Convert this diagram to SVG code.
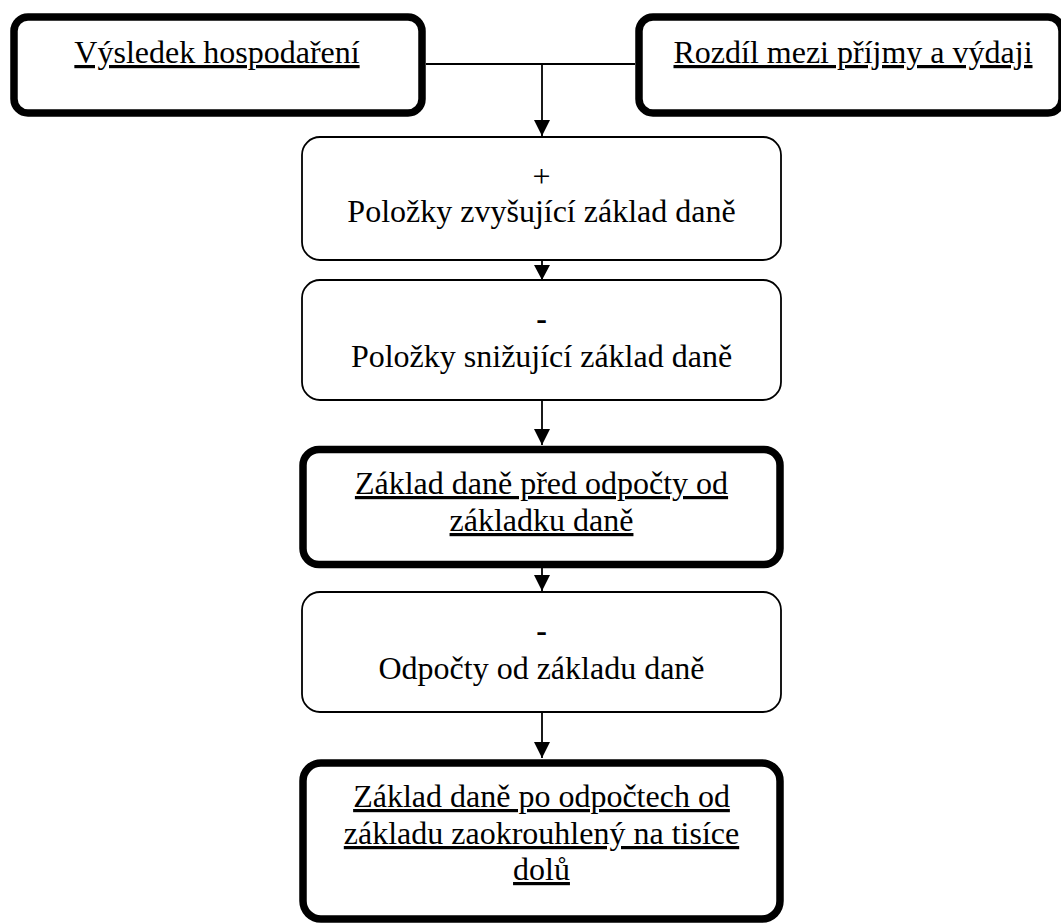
<svg xmlns="http://www.w3.org/2000/svg" width="1061" height="924" viewBox="0 0 1061 924">
  <defs>
    <marker id="arrow" markerUnits="userSpaceOnUse" markerWidth="16" markerHeight="16" viewBox="0 0 16 16" refX="8" refY="16" orient="auto-start-reverse">
      <path d="M0,0 L16,0 L8,16 Z" fill="#000"/>
    </marker>
    <style>
      .thin { fill: #fff; stroke: #000; stroke-width: 1.8; }
      .thick { fill: #fff; stroke: #000; stroke-width: 7.5; }
      .t { font-family: "Liberation Serif", "Times New Roman", serif; font-size: 32px; fill: #000; text-anchor: middle; }
      .u { text-decoration: underline; }
      .b { font-weight: bold; }
      .conn { fill: none; stroke: #000; stroke-width: 1.8; }
    </style>
  </defs>
  <rect width="1061" height="924" fill="#fff"/>

  <g id="connectors">
    <path class="conn" d="M426,64 L635,64"/>
    <path class="conn" d="M542,64 L542,136"/>
    <path d="M534,120 L550,120 L542,136 Z" fill="#000"/>
    <path class="conn" d="M542,260 L542,280"/>
    <path d="M534,265 L550,265 L542,280 Z" fill="#000"/>
    <path class="conn" d="M542,400 L542,445"/>
    <path d="M534,429 L550,429 L542,445 Z" fill="#000"/>
    <path class="conn" d="M542,568 L542,591"/>
    <path d="M534,575 L550,575 L542,591 Z" fill="#000"/>
    <path class="conn" d="M542,712 L542,758"/>
    <path d="M534,742 L550,742 L542,758 Z" fill="#000"/>
  </g>

  <g id="node-vysledek">
    <rect class="thick" x="14" y="17" width="408" height="96" rx="14"/>
    <text class="t u" x="217" y="63">Výsledek hospodaření</text>
  </g>

  <g id="node-rozdil">
    <rect class="thick" x="639" y="17" width="423" height="96" rx="14"/>
    <text class="t u" x="853" y="63">Rozdíl mezi příjmy a výdaji</text>
  </g>

  <g id="node-zvysujici">
    <rect class="thin" x="302" y="137" width="479" height="123" rx="18"/>
    <text class="t" x="541.5" y="187">+</text>
    <text class="t" x="541.5" y="222">Položky zvyšující základ daně</text>
  </g>

  <g id="node-snizujici">
    <rect class="thin" x="302" y="280" width="479" height="120" rx="18"/>
    <text class="t b" x="541.5" y="329">-</text>
    <text class="t" x="541.5" y="367">Položky snižující základ daně</text>
  </g>

  <g id="node-zaklad-pred">
    <rect class="thick" x="303" y="449.5" width="477" height="115" rx="16"/>
    <text class="t u" x="541.5" y="494">Základ daně před odpočty od</text>
    <text class="t u" x="541.5" y="531">základku daně</text>
  </g>

  <g id="node-odpocty">
    <rect class="thin" x="302" y="592" width="479" height="120" rx="18"/>
    <text class="t b" x="541.5" y="641">-</text>
    <text class="t" x="541.5" y="679">Odpočty od základu daně</text>
  </g>

  <g id="node-zaklad-po">
    <rect class="thick" x="303" y="763" width="477" height="156" rx="18"/>
    <text class="t u" x="541.5" y="807">Základ daně po odpočtech od</text>
    <text class="t u" x="541.5" y="844">základu zaokrouhlený na tisíce</text>
    <text class="t u" x="541.5" y="880">dolů</text>
  </g>
</svg>
